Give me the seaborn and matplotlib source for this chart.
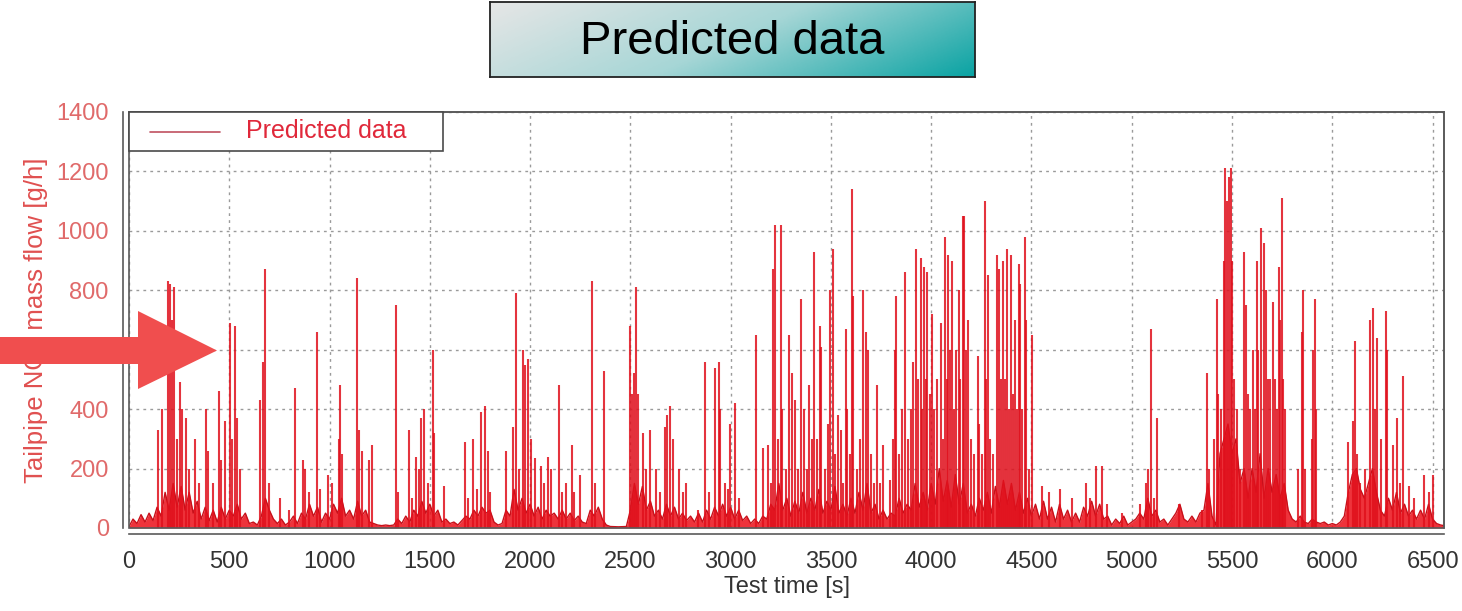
import numpy as np
import pandas as pd
import matplotlib
matplotlib.use("Agg")
import matplotlib.pyplot as plt
import seaborn as sns
from matplotlib.patches import Polygon, Rectangle
from matplotlib.lines import Line2D
from matplotlib.colors import LinearSegmentedColormap

# ---------------- data ----------------
# low-level (baseline) signal, time [s] and NOx mass flow [g/h]
base_t = [0, 20, 40, 60, 80, 100, 120, 140, 160, 180, 200, 220, 240, 260, 280, 300, 320, 340, 360, 380,
          400, 420, 440, 460, 480, 500, 520, 540, 560, 580, 600, 620, 640, 660, 680, 700, 720, 740, 760, 780,
          800, 820, 840, 860, 880, 900, 920, 940, 960, 980, 1000, 1020, 1040, 1060, 1080, 1100, 1120, 1140, 1160, 1180,
          1200, 1220, 1240, 1260, 1280, 1300, 1320, 1340, 1360, 1380, 1400, 1420, 1440, 1460, 1480, 1500, 1520, 1540, 1560, 1580,
          1600, 1620, 1640, 1660, 1680, 1700, 1720, 1740, 1760, 1780, 1800, 1820, 1840, 1860, 1880, 1900, 1920, 1940, 1960, 1980,
          2000, 2020, 2040, 2060, 2080, 2100, 2120, 2140, 2160, 2180, 2200, 2220, 2240, 2260, 2280, 2300, 2320, 2340, 2360, 2380,
          2400, 2440, 2480, 2500, 2520, 2540, 2560, 2580, 2600, 2620, 2640, 2660, 2680, 2700, 2720, 2740, 2760, 2780,
          2800, 2820, 2840, 2860, 2880, 2900, 2920, 2940, 2960, 2980, 3000, 3020, 3040, 3060, 3080, 3100, 3120, 3140, 3160, 3180,
          3200, 3220, 3240, 3260, 3280, 3300, 3320, 3340, 3360, 3380, 3400, 3420, 3440, 3460, 3480, 3500, 3520, 3540, 3560, 3580,
          3600, 3620, 3640, 3660, 3680, 3700, 3720, 3740, 3760, 3780, 3800, 3820, 3840, 3860, 3880, 3900, 3920, 3940, 3960, 3980,
          4000, 4020, 4040, 4060, 4080, 4100, 4120, 4140, 4160, 4180, 4200, 4220, 4240, 4260, 4280, 4300, 4320, 4340, 4360, 4380,
          4400, 4420, 4440, 4460, 4480, 4500, 4520, 4540, 4560, 4580, 4600, 4620, 4640, 4660, 4680, 4700, 4720, 4740, 4760, 4780,
          4800, 4820, 4840, 4860, 4880, 4900, 4920, 4940, 4960, 4980, 5000, 5020, 5040, 5060, 5080, 5100, 5120, 5140, 5160, 5180,
          5200, 5220, 5240, 5260, 5280, 5300, 5320, 5340, 5360, 5380, 5400, 5420, 5440, 5460, 5480, 5500, 5520, 5540, 5560, 5580,
          5600, 5620, 5640, 5660, 5680, 5700, 5720, 5740, 5760, 5780, 5800, 5820, 5840, 5860, 5880, 5900, 5920, 5940, 5960, 5980,
          6000, 6020, 6040, 6060, 6080, 6100, 6120, 6140, 6160, 6180, 6200, 6220, 6240, 6260, 6280, 6300, 6320, 6340, 6360, 6380,
          6400, 6420, 6440, 6460, 6480, 6500, 6520, 6540, 6557]
base_v = [5, 30, 15, 45, 20, 50, 25, 70, 40, 120, 60, 150, 70, 140, 60, 120, 50, 90, 30, 70,
          25, 60, 20, 70, 30, 60, 40, 80, 30, 50, 15, 20, 10, 40, 100, 60, 30, 15, 30, 10,
          20, 40, 15, 50, 30, 80, 40, 70, 20, 50, 30, 80, 50, 100, 40, 60, 30, 90, 40, 60,
          20, 15, 10, 8, 10, 8, 10, 30, 15, 40, 20, 60, 40, 90, 50, 80, 40, 60, 20, 30,
          15, 20, 10, 25, 40, 30, 60, 40, 70, 50, 60, 20, 10, 15, 60, 40, 130, 60, 100, 50,
          80, 40, 70, 30, 60, 40, 50, 30, 60, 30, 50, 25, 40, 20, 15, 60, 40, 70, 30, 10,
          5, 4, 5, 60, 150, 80, 140, 60, 90, 40, 60, 30, 80, 40, 70, 30, 50, 25,
          40, 20, 50, 20, 60, 30, 70, 40, 80, 40, 70, 30, 60, 25, 40, 15, 30, 15, 40, 30,
          80, 60, 150, 60, 100, 40, 90, 50, 120, 50, 100, 60, 130, 50, 90, 60, 140, 50, 80, 40,
          100, 50, 120, 60, 150, 50, 80, 30, 60, 30, 50, 40, 100, 50, 80, 60, 150, 70, 120, 60,
          150, 80, 200, 90, 160, 70, 180, 80, 150, 50, 80, 40, 100, 60, 120, 50, 140, 70, 160, 80,
          150, 60, 120, 50, 100, 40, 80, 30, 90, 30, 70, 20, 80, 30, 60, 20, 50, 20, 70, 40,
          90, 40, 80, 30, 40, 10, 30, 15, 40, 10, 20, 30, 50, 30, 100, 40, 60, 20, 30, 10,
          30, 50, 80, 30, 20, 40, 20, 50, 60, 150, 40, 10, 250, 300, 350, 250, 300, 150, 200, 100,
          200, 120, 250, 100, 200, 120, 180, 100, 150, 60, 30, 20, 40, 20, 15, 30, 20, 15, 20, 10,
          15, 10, 20, 40, 120, 180, 200, 130, 100, 150, 200, 120, 60, 40, 100, 60, 120, 50, 80, 40,
          60, 30, 60, 30, 80, 30, 15, 10, 8]

# individual emission peaks: time [s] and peak NOx mass flow [g/h]
peak_t = [145, 164, 195, 205, 215, 222, 240, 252, 262, 282, 300, 327, 350, 385, 392, 420, 447, 460, 478, 502,
          515, 530, 538, 555, 651, 668, 679, 700, 751, 800, 826, 867, 880, 900, 937, 950, 992, 1010, 1045, 1053,
          1060, 1136, 1145, 1160, 1199, 1210, 1332, 1340, 1395, 1410, 1432, 1445, 1457, 1473, 1490, 1515, 1523, 1573, 1673, 1690,
          1714, 1735, 1756, 1773, 1789, 1800, 1881, 1917, 1929, 1945, 1967, 1975, 1992, 2005, 2022, 2053, 2070, 2088, 2103, 2146,
          2160, 2179, 2207, 2220, 2249, 2310, 2325, 2368, 2497, 2510, 2519, 2530, 2540, 2563, 2580, 2596, 2630, 2650, 2671, 2683,
          2699, 2712, 2742, 2760, 2779, 2837, 2873, 2890, 2923, 2940, 2948, 2970, 2986, 2998, 3024, 3044, 3124, 3160, 3184, 3200,
          3213, 3221, 3235, 3251, 3258, 3275, 3292, 3306, 3320, 3335, 3350, 3367, 3380, 3392, 3405, 3417, 3430, 3445, 3453, 3470,
          3483, 3495, 3508, 3520, 3533, 3549, 3560, 3574, 3580, 3595, 3607, 3612, 3630, 3645, 3660, 3673, 3686, 3700, 3715, 3731,
          3745, 3761, 3793, 3810, 3818, 3823, 3840, 3855, 3869, 3885, 3900, 3911, 3922, 3935, 3947, 3955, 3964, 3972, 3980, 3992,
          4005, 4015, 4030, 4047, 4058, 4068, 4078, 4085, 4095, 4104, 4115, 4125, 4137, 4145, 4157, 4166, 4175, 4185, 4200, 4215,
          4233, 4240, 4255, 4266, 4275, 4283, 4295, 4310, 4326, 4337, 4348, 4359, 4368, 4376, 4386, 4396, 4408, 4420, 4430, 4437,
          4445, 4455, 4467, 4475, 4490, 4505, 4553, 4586, 4644, 4702, 4774, 4794, 4824, 4852, 4877, 4951, 5043, 5073, 5082, 5096,
          5110, 5126, 5234, 5350, 5375, 5385, 5410, 5425, 5432, 5444, 5458, 5466, 5475, 5483, 5494, 5500, 5508, 5524, 5541, 5562,
          5571, 5580, 5591, 5604, 5615, 5624, 5630, 5645, 5657, 5670, 5680, 5690, 5703, 5715, 5725, 5732, 5740, 5748, 5756, 5765,
          5831, 5848, 5856, 5862, 5900, 5906, 5914, 5920, 6080, 6105, 6113, 6125, 6138, 6163, 6188, 6204, 6212, 6221, 6241, 6267,
          6275, 6305, 6322, 6340, 6352, 6380, 6405, 6455, 6480, 6500]
peak_v = [330, 400, 830, 820, 700, 810, 300, 490, 400, 370, 200, 300, 150, 400, 260, 150, 460, 230, 360, 690,
          300, 680, 370, 200, 430, 560, 870, 150, 100, 60, 470, 230, 200, 120, 660, 130, 180, 150, 300, 480,
          250, 840, 330, 260, 230, 280, 750, 120, 330, 100, 240, 200, 370, 400, 150, 600, 320, 140, 290, 100,
          300, 130, 390, 410, 260, 120, 260, 340, 790, 200, 600, 550, 570, 300, 235, 210, 150, 240, 200, 480,
          120, 150, 280, 120, 180, 830, 150, 530, 680, 450, 520, 810, 450, 320, 200, 330, 200, 120, 340, 380,
          410, 300, 200, 120, 150, 60, 560, 120, 540, 560, 400, 150, 130, 350, 420, 100, 650, 270, 280, 150,
          870, 1020, 300, 1020, 400, 200, 650, 520, 430, 200, 770, 400, 200, 480, 300, 930, 300, 680, 610, 200,
          350, 800, 940, 250, 380, 330, 150, 670, 400, 250, 1140, 780, 200, 300, 800, 660, 600, 250, 150, 480,
          150, 280, 160, 300, 600, 780, 250, 400, 860, 300, 400, 560, 940, 500, 910, 400, 880, 500, 860, 450,
          720, 400, 500, 690, 300, 980, 500, 920, 600, 900, 400, 600, 800, 500, 1050, 1050, 600, 700, 300, 250,
          580, 350, 250, 1100, 500, 850, 300, 250, 920, 870, 500, 900, 500, 940, 400, 920, 450, 700, 400, 890,
          820, 400, 980, 700, 200, 650, 140, 120, 130, 100, 150, 100, 210, 210, 80, 50, 80, 150, 200, 670,
          100, 370, 80, 60, 520, 200, 300, 770, 450, 400, 900, 1210, 1100, 1180, 1210, 900, 500, 400, 200, 930,
          750, 450, 400, 600, 400, 900, 600, 1010, 960, 800, 500, 500, 760, 500, 400, 880, 700, 1110, 500, 400,
          200, 660, 800, 200, 300, 600, 770, 400, 290, 360, 630, 250, 150, 200, 700, 740, 400, 640, 300, 730,
          600, 280, 370, 150, 510, 140, 100, 180, 120, 180]

x_ticks = list(range(0, 6501, 500))
y_ticks = list(range(0, 1401, 200))
legend_label = "Predicted data"
title_text = "Predicted data"
x_label = "Test time [s]"
y_label = "Tailpipe NOx mass flow [g/h]"

# ---------------- styling ----------------
sns.set_style("white")
plt.rcParams["font.family"] = ["Liberation Sans", "DejaVu Sans"]

W, H = 1462, 611
fig = plt.figure(figsize=(W / 100, H / 100), dpi=100)
ax = fig.add_axes([129 / W, 1 - 528 / H, (1444 - 129) / W, (528 - 112) / H])

line_col = "#e0101c"
base_df = pd.DataFrame({"time": base_t, "nox": base_v})
ax.fill_between(base_df["time"], 0, base_df["nox"], color="#ec0f18", alpha=0.85, linewidth=0, zorder=2)
sns.lineplot(data=base_df, x="time", y="nox", ax=ax, color="#c8101a", linewidth=1.0,
             estimator=None, sort=True, legend=False, zorder=3)
ax.vlines(peak_t, 0, peak_v, colors=line_col, linewidth=1.5, alpha=0.85, zorder=3)

ax.set_xlim(0, 6557)
ax.set_ylim(0, 1400)
ax.set_xticks(x_ticks)
ax.set_yticks(y_ticks)
ax.grid(True, color="#9a9a9a", linestyle=(0, (2, 3)), linewidth=1.0)
ax.set_axisbelow(True)

for s in ["top", "right", "left", "bottom"]:
    ax.spines[s].set_color("#5a5a5a")
    ax.spines[s].set_linewidth(1.2)
for s in ["left", "bottom"]:
    ax.spines[s].set_position(("outward", 4.5))
ax.add_patch(Rectangle((0, 0), 1, 1, transform=ax.transAxes, fill=False,
                       edgecolor="#5a5a5a", linewidth=1.2, clip_on=False, zorder=4))

ax.tick_params(axis="x", colors="#5a5a5a", labelcolor="#333333", labelsize=17,
               length=6, width=1.2, direction="out", pad=6)
ax.tick_params(axis="y", colors="#5a5a5a", labelcolor="#e06a6a", labelsize=17,
               length=6, width=1.2, direction="out", pad=4)
ax.set_xlabel(x_label, fontsize=17, color="#333333", labelpad=2)
ax.set_ylabel(y_label, fontsize=18.5, color="#e05050", labelpad=6)

# ---------------- legend box (top-left of the axes) ----------------
lx0, lx1 = 0.0, (443 - 129) / (1444 - 129)
ly0 = 1 - (151 - 112) / (528 - 112)
ax.add_patch(Rectangle((lx0, ly0), lx1 - lx0, 1 - ly0, transform=ax.transAxes,
                       facecolor="white", edgecolor="#4a4a4a", linewidth=1.2, zorder=6, clip_on=False))
ly = (ly0 + 1) / 2
hx0 = (150 - 129) / (1444 - 129)
hx1 = (220 - 129) / (1444 - 129)
ax.add_line(Line2D([hx0, hx1], [ly, ly], transform=ax.transAxes, color="#c05060",
                   linewidth=1.2, zorder=7))
ax.text((246 - 129) / (1444 - 129), ly, legend_label, transform=ax.transAxes,
        ha="left", va="center", fontsize=18, color="#e0283a", zorder=7)

# ---------------- title box with gradient ----------------
tax = fig.add_axes([490 / W, 1 - 77 / H, (975 - 490) / W, 75 / H])
gx, gy = np.meshgrid(np.linspace(0, 1, 300), np.linspace(0, 1, 60))
grad = 0.75 * gx + 0.25 * gy
cmap = LinearSegmentedColormap.from_list("tb", ["#e6e6e6", "#a6d6d6", "#0aa3a3"])
tax.imshow(grad, cmap=cmap, aspect="auto", extent=(0, 1, 0, 1), origin="upper", vmin=0, vmax=1)
tax.set_xticks([])
tax.set_yticks([])
for s in tax.spines.values():
    s.set_color("#222222")
    s.set_linewidth(1.3)
tax.text(0.5, 0.47, title_text, ha="center", va="center", fontsize=34, color="black",
         transform=tax.transAxes)

# ---------------- red arrow annotation ----------------
arrow_px = [(0, 337), (138, 337), (138, 311), (217, 350.5), (138, 389), (138, 364), (0, 364)]
arrow = Polygon([(x / W, 1 - y / H) for x, y in arrow_px], closed=True,
                transform=fig.transFigure, facecolor="#f04e4e", edgecolor="none", zorder=10)
fig.add_artist(arrow)

fig.savefig("out.png", dpi=100)
